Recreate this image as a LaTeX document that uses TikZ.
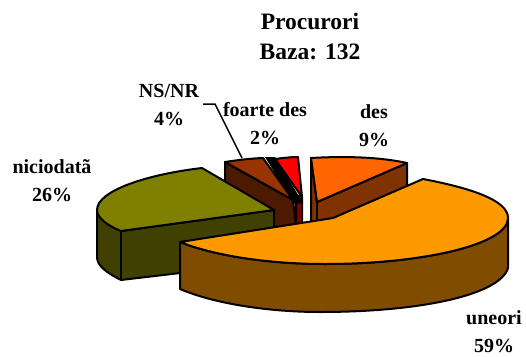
\documentclass[tikz,border=0pt]{standalone}
\usepackage{fontspec}
\setmainfont{Liberation Serif}
\definecolor{cUne}{HTML}{FF9900}
\definecolor{cUneS}{HTML}{804C00}
\definecolor{cDes}{HTML}{FF6600}
\definecolor{cDesS}{HTML}{803300}
\definecolor{cOl}{HTML}{808000}
\definecolor{cOlS}{HTML}{404000}
\definecolor{cNs}{HTML}{993300}
\definecolor{cNsS}{HTML}{4D1A00}
\definecolor{cRedS}{HTML}{800000}
\tikzset{wedge/.style={draw=black,line width=2pt,line join=round},
 lab/.style={font=\bfseries\fontsize{20}{28}\selectfont,align=center,text=black,inner sep=0pt},
 ttl/.style={font=\bfseries\fontsize{23.500}{30}\selectfont,align=center,text=black,inner sep=0pt}}
\begin{document}
\begin{tikzpicture}[x=1pt,y=-1pt]
\useasboundingbox (0,0) rectangle (526,356);
% des
\draw[wedge,fill=cDesS] (311,158) -- (317,202) -- (407,163) -- (407,190) -- (333,225) -- (311,225) -- cycle;
\draw[wedge,fill=cDes] (311,158) .. controls (345,156) and (380,157) .. (407,163) -- (317,202) -- cycle;
\draw[wedge] (317,202) -- (317,222);
% foarte des (red)
\draw[wedge,fill=cRedS] (302,197) -- (302,225) -- (296,225) -- (296,195) -- cycle;
\draw[wedge,fill=red] (275,159) .. controls (283,158) and (290,157) .. (298,157) -- (302,197) -- cycle;
% black sliver
\fill[black] (265,157) -- (275,157) -- (303,203) -- (294,204) -- cycle;
% NS/NR
\draw[wedge,fill=cNsS] (225,162) -- (293,200) -- (296,225) -- (250,235) -- (225,185) -- cycle;
\draw[wedge,fill=cNs] (225,162) .. controls (238,160) and (250,158.500) .. (263,158) -- (293,200) -- cycle;
% niciodata
\draw[wedge,fill=cOlS] (97,210) -- (121,231) -- (274,210) -- (274,262) -- (121,280) .. controls (105,272) and (97,265) .. (97,257) -- cycle;
\draw[wedge,fill=cOl] (202,168) -- (274,210) -- (121,231) .. controls (108,226) and (97,218) .. (97,210) .. controls (97,190) and (150,174) .. (202,168) -- cycle;
\draw[wedge] (121,231) -- (121,280);
% uneori
\draw[wedge,fill=cUneS] (180,242) .. controls (215,256) and (270,264) .. (325,264) .. controls (420,264) and (508,245) .. (508,218) -- (508,268) .. controls (500,295) and (420,312) .. (320,312) .. controls (270,312) and (215,304) .. (180,289) -- cycle;
\draw[wedge,fill=cUne] (423,179) .. controls (470,188) and (508,200) .. (508,218) .. controls (508,245) and (420,264) .. (325,264) .. controls (270,264) and (215,256) .. (180,242) -- (333,218) -- cycle;
% labels
\node[ttl] (title) at (310,37) {Procurori\\Baza: 132};
\node[lab] (ns) at (169,105) {NS/NR\\4\%};
\node[lab] (fd) at (265,124) {foarte des\\2\%};
\node[lab] (d) at (374,126) {des\\9\%};
\node[lab] (nd) at (52,181) {niciodatã\\26\%};
\node[lab] (un) at (494,332) {uneori\\59\%};
\coordinate (leadA) at (203,104);
\coordinate (leadB) at (215,104);
\coordinate (leadC) at (242,158);
\draw[line width=1.5pt] (leadA) -- (leadB) -- (leadC);
\end{tikzpicture}
\end{document}
